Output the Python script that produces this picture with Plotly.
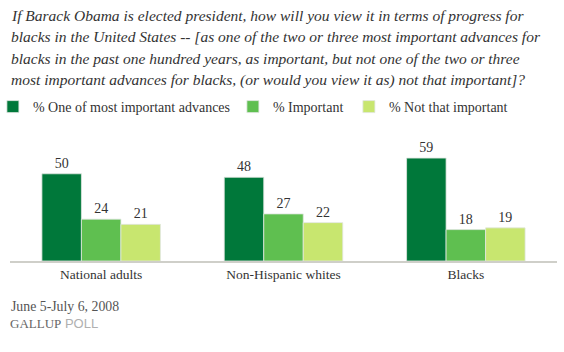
import plotly.graph_objects as go

categories = ["National adults", "Non-Hispanic whites", "Blacks"]
series_names = ["% One of most important advances", "% Important", "% Not that important"]
most_important = [50, 48, 59]
important = [24, 27, 18]
not_important = [21, 22, 19]

title_lines = [
    "If Barack Obama is elected president, how will you view it in terms of progress for",
    "blacks in the United States -- [as one of the two or three most important advances for",
    "blacks in the past one hundred years, as important, but not one of the two or three",
    "most important advances for blacks, (or would you view it as) not that important]?",
]
date_text = "June 5-July 6, 2008"

W, H = 564, 352
L, R, T, B = 9.6, 7.3, 141, 91
PW, PH = W - L - R, H - T - B

def px_x(x):
    return (x - L) / PW

def px_y(y):
    return (H - B - y) / PH

colors = ["#00783A", "#5FBF50", "#C8E66F"]
values = [most_important, important, not_important]
legend_widths = [195, 71, 120]
SERIF = "Liberation Serif"

fig = go.Figure()
for name, vals, col, lw in zip(series_names, values, colors, legend_widths):
    fig.add_trace(go.Bar(
        x=categories, y=vals, name=name,
        marker=dict(color=col, line=dict(color="rgba(225,230,225,0.8)", width=1)),
        text=[str(v) for v in vals], textposition="outside",
        textfont=dict(family=SERIF, size=14, color="#333333"),
        cliponaxis=False, legendwidth=lw,
    ))

annotations = []
line_y = [15, 36.5, 58, 79.5]
for txt, yy in zip(title_lines, line_y):
    annotations.append(dict(
        text="<i>" + txt + "</i>", xref="paper", yref="paper",
        x=px_x(9), y=px_y(yy), xanchor="left", yanchor="middle",
        showarrow=False, font=dict(family=SERIF, size=15.5, color="#333333"),
    ))
annotations.append(dict(
    text=date_text, xref="paper", yref="paper", x=px_x(9), y=px_y(306.7),
    xanchor="left", yanchor="middle", showarrow=False,
    font=dict(family=SERIF, size=13.8, color="#555555"),
))
annotations.append(dict(
    text="<span style='color:#666666'>GALLUP</span><span style='color:#b0b0b0;font-family:Liberation Sans'> POLL</span>",
    xref="paper", yref="paper", x=px_x(7.5), y=px_y(323.3),
    xanchor="left", yanchor="middle", showarrow=False,
    font=dict(family=SERIF, size=13, color="#666666"),
))

fig.update_layout(
    width=W, height=H,
    margin=dict(l=L, r=R, t=T, b=B, pad=0, autoexpand=False),
    paper_bgcolor="white", plot_bgcolor="white",
    barmode="group", bargap=0.35, bargroupgap=0,
    showlegend=True,
    legend=dict(
        orientation="h", x=px_x(-7.5), y=px_y(107), xanchor="left", yanchor="middle",
        font=dict(family=SERIF, size=14, color="#333333"),
        bgcolor="rgba(0,0,0,0)", borderwidth=0, traceorder="normal",
    ),
    xaxis=dict(
        showline=True, linecolor="#CFCFC9", linewidth=2, ticks="", showgrid=False,
        tickfont=dict(family=SERIF, size=13.5, color="#333333"), fixedrange=True,
    ),
    yaxis=dict(range=[0, 68.8], visible=False, showgrid=False, fixedrange=True),
    annotations=annotations,
)

fig.write_html("out.html")
